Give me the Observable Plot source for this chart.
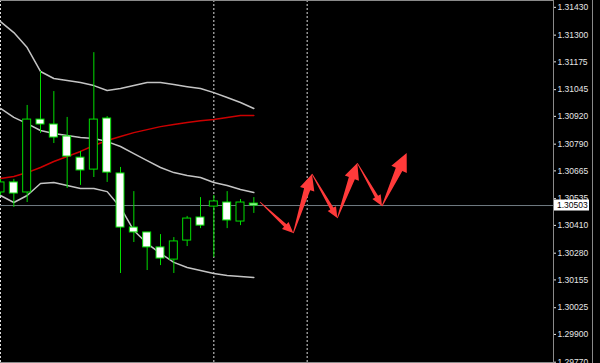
<!DOCTYPE html>
<html><head><meta charset="utf-8">
<script src="https://cdn.jsdelivr.net/npm/d3@7"></script>
<script src="https://cdn.jsdelivr.net/npm/@observablehq/plot@0.6"></script>
<style>html,body{margin:0;padding:0;background:#000;overflow:hidden}</style>
</head><body><div id="chart"></div>
<script>
// ---- data ----
const candleIdx = [0,1,2,3,4,5,6,7,8,9,10,11,12,13,14,15,16,17,18,19];
const opens  = [1.30564,1.30611,1.30564,1.30905,1.30882,1.30826,1.30727,1.30671,1.30910,1.30653,1.30400,1.30377,1.30307,1.30250,1.30339,1.30447,1.30498,1.30517,1.30428,1.30512];
const closes = [1.30611,1.30559,1.30905,1.30882,1.30821,1.30732,1.30667,1.30905,1.30657,1.30400,1.30377,1.30307,1.30255,1.30335,1.30442,1.30409,1.30522,1.30433,1.30517,1.30503];
const highs  = [1.30625,1.30625,1.30971,1.31130,1.31036,1.30915,1.30756,1.31218,1.30919,1.30681,1.30568,1.30377,1.30367,1.30353,1.30452,1.30540,1.30550,1.30568,1.30531,1.30540];
const lows   = [1.30550,1.30494,1.30517,1.30840,1.30793,1.30583,1.30597,1.30634,1.30611,1.30185,1.30330,1.30199,1.30222,1.30185,1.30311,1.30395,1.30260,1.30395,1.30409,1.30466];

const bandUpper  = [1.31363,1.31312,1.31242,1.31130,1.31097,1.31088,1.31078,1.31064,1.31041,1.31050,1.31064,1.31078,1.31078,1.31069,1.31059,1.31050,1.31031,1.31008,1.30985,1.30957];
const bandMiddle = [1.30957,1.30915,1.30886,1.30854,1.30840,1.30830,1.30821,1.30816,1.30802,1.30779,1.30746,1.30713,1.30681,1.30657,1.30643,1.30634,1.30611,1.30597,1.30578,1.30564];
const bandLower  = [1.30550,1.30517,1.30550,1.30606,1.30611,1.30597,1.30583,1.30583,1.30568,1.30494,1.30386,1.30325,1.30279,1.30237,1.30213,1.30199,1.30185,1.30176,1.30171,1.30166];
const maValues   = [1.30629,1.30639,1.30657,1.30681,1.30709,1.30732,1.30756,1.30784,1.30807,1.30826,1.30844,1.30858,1.30872,1.30882,1.30891,1.30900,1.30905,1.30915,1.30924,1.30924];

const separators = [0, 16, 23];
const arrowIdx   = [19.5, 22.0, 23.4, 25.3, 26.8, 28.65, 30.5];
const arrowPrice = [1.30517, 1.30372, 1.30648, 1.30442, 1.30699, 1.30498, 1.30746];

const priceTicks = [1.31430,1.31300,1.31175,1.31045,1.30920,1.30790,1.30665,1.30535,1.30410,1.30280,1.30155,1.30025,1.29900,1.29770];
const lastPrice = 1.30503;
const xDomain = [0, 41.475];
const yDomain = [1.29764, 1.31462];

// ---- derived tables ----
const candles = candleIdx.map((i,k)=>({i, o:opens[k], c:closes[k], h:highs[k], l:lows[k]}));
const bands = candleIdx.map((i,k)=>({i, up:bandUpper[k], mid:bandMiddle[k], lo:bandLower[k], ma:maValues[k]}));
const arrows = arrowIdx.slice(1).map((i,k)=>({i0:arrowIdx[k], p0:arrowPrice[k], i1:i, p1:arrowPrice[k+1]}));

const GREEN = "#00dd00", BAND = "#c4c4c4", GRID = "#8a8a8a";

function arrowMark(index, scales) {
  const g = d3.create("svg:g");
  arrows.forEach((a, k) => {
    const x0=scales.x(a.i0), y0=scales.y(a.p0), x1=scales.x(a.i1), y1=scales.y(a.p1);
    const dx=x1-x0, dy=y1-y0, L=Math.hypot(dx,dy), ux=dx/L, uy=dy/L, nx=-uy, ny=ux;
    const up = y1 < y0;
    const last = k === arrows.length - 1;
    const hl = up ? (last ? 18 : 16) : 11, hw = up ? (last ? 8.5 : 7.5) : 4.8, sw = up ? (last ? 3.6 : 3.2) : 1.8, tw = 0.4;
    const bx=x1-ux*hl, by=y1-uy*hl;
    const pts=[[x0+nx*tw,y0+ny*tw],[bx+nx*sw,by+ny*sw],[bx+nx*hw,by+ny*hw],[x1,y1],
               [bx-nx*hw,by-ny*hw],[bx-nx*sw,by-ny*sw],[x0-nx*tw,y0-ny*tw]];
    g.append("path").attr("d","M"+pts.map(p=>p[0].toFixed(2)+","+p[1].toFixed(2)).join("L")+"Z")
      .attr("fill","#ff3a3a");
  });
  return g.node();
}

function frameMark(index, scales, values, dims) {
  const g = d3.create("svg:g").attr("stroke", GRID).attr("fill","none");
  const r = dims.width - dims.marginRight;
  g.append("line").attr("x1",0).attr("x2",r).attr("y1",0.5).attr("y2",0.5);
  g.append("line").attr("x1",0).attr("x2",r).attr("y1",dims.height-0.5).attr("y2",dims.height-0.5);
  g.append("line").attr("x1",r+0.5).attr("x2",r+0.5).attr("y1",0).attr("y2",dims.height);
  g.append("line").attr("x1",dims.width-7.5).attr("x2",dims.width-7.5).attr("y1",0).attr("y2",dims.height);
  return g.node();
}

function priceLabel(index, scales, values, dims) {
  const y = scales.y(lastPrice);
  const x0 = dims.width - dims.marginRight;
  const g = d3.create("svg:g");
  g.append("rect").attr("x", x0+1).attr("y", y-5.5).attr("width", 35).attr("height", 11).attr("fill","#fff");
  g.append("text").attr("x", x0+4).attr("y", y).attr("dy","0.34em").attr("fill","#000")
    .attr("text-anchor","start").attr("font-size", 8.5).text(lastPrice.toFixed(5));
  return g.node();
}

const chart = Plot.plot({
  width: 600, height: 363,
  marginLeft: 0, marginRight: 47, marginTop: 0, marginBottom: 0,
  style: {background: "#000", color: "#e6e6e6", fontFamily: "'Liberation Sans', Arial, sans-serif", fontSize: "8.5px"},
  x: {domain: xDomain, axis: null},
  y: {domain: yDomain, axis: "right", ticks: priceTicks, tickFormat: d => d.toFixed(5), tickSize: 2, tickPadding: 2, label: null},
  marks: [
    Plot.ruleX(separators, {x: d => d, stroke: "#dcdcdc", strokeDasharray: "2,2"}),
    Plot.ruleY([lastPrice], {stroke: "#6f7a82"}),
    Plot.line(bands, {x: "i", y: "up", stroke: BAND, clip: true}),
    Plot.line(bands, {x: "i", y: "mid", stroke: BAND, clip: true}),
    Plot.line(bands, {x: "i", y: "lo", stroke: BAND, clip: true}),
    Plot.line(bands, {x: "i", y: "ma", stroke: "#cc0000", clip: true}),
    Plot.ruleX(candles, {x: "i", y1: "l", y2: "h", stroke: GREEN, clip: true}),
    Plot.rect(candles, {x1: d => d.i - 0.3, x2: d => d.i + 0.3, y1: "o", y2: "c",
      fill: d => d.c < d.o ? "#ffffff" : "#000000", stroke: GREEN, clip: true}),
    arrowMark,
    frameMark,
    priceLabel
  ]
});
document.getElementById("chart").appendChild(chart);
</script>
</body></html>
